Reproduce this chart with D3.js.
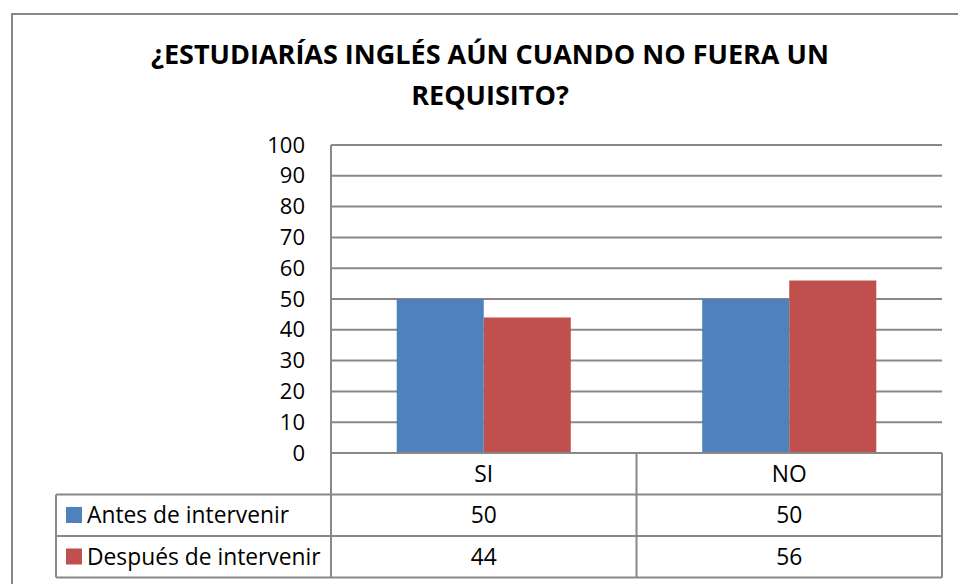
<!DOCTYPE html>
<html lang="es">
  <head>
    <meta charset="utf-8">
    <title>¿Estudiarías inglés aún cuando no fuera un requisito?</title>
    <style>
      body { margin: 0; background: #fff; }
      svg { display: block; font-family: "Open Sans", sans-serif; }
    </style>
  </head>
  <body>
    <svg width="958" height="584"></svg>
    <script src="https://d3js.org/d3.v7.min.js"></script>
    <script>
      var categories = ["SI", "NO"];
      var seriesNames = ["Antes de intervenir", "Después de intervenir"];
      var antes = [50, 50];
      var despues = [44, 56];
      var yTicks = [0, 10, 20, 30, 40, 50, 60, 70, 80, 90, 100];
      var titleLines = ["¿ESTUDIARÍAS INGLÉS AÚN CUANDO NO FUERA UN", "REQUISITO?"];

      var series = [antes, despues];
      var colors = ["#4f81bd", "#c0504d"];
      var gridColor = "#888";

      var svg = d3.select("svg");
      var plotLeft = 331, plotRight = 942, plotTop = 145, plotBottom = 453;
      var rowH = 41.5, legendLeft = 56;
      var labelSize = 22.8;

      // outer frame
      svg.append("rect")
        .attr("x", 12).attr("y", 14)
        .attr("width", 960).attr("height", 600)
        .attr("fill", "none")
        .attr("stroke", gridColor)
        .attr("stroke-width", 2);

      svg.append("g")
        .selectAll("text")
        .data(titleLines)
        .enter()
        .append("text")
        .attr("x", 490)
        .attr("y", (d, i) => 64 + i * 41)
        .attr("text-anchor", "middle")
        .attr("font-size", 27)
        .attr("font-weight", "bold")
        .text(d => d);

      var y = d3.scaleLinear().domain([0, 100]).range([plotBottom, plotTop]);
      var x = d3.scaleBand().domain(categories).range([plotLeft, plotRight]);
      var xs = d3.scaleBand().domain(d3.range(series.length))
        .range([0, x.bandwidth()]).paddingOuter(0.755);

      // gridlines
      svg.append("g")
        .selectAll("line")
        .data(yTicks.filter(d => d > 0))
        .enter()
        .append("line")
        .attr("x1", plotLeft).attr("x2", plotRight)
        .attr("y1", d => y(d)).attr("y2", d => y(d))
        .attr("stroke", gridColor)
        .attr("stroke-width", 2);

      var yAxis = svg.append("g")
        .attr("transform", `translate(${plotLeft},0)`)
        .call(d3.axisLeft(y).tickValues(yTicks).tickSize(0).tickPadding(26));
      yAxis.select(".domain").remove();
      yAxis.selectAll("text")
        .attr("font-family", "Open Sans, sans-serif")
        .attr("font-size", 22)
        .attr("fill", "#000");

      // bars
      svg.append("g")
        .selectAll("g")
        .data(series)
        .enter()
        .append("g")
        .attr("fill", (d, i) => colors[i])
        .each(function(vals, si) {
          d3.select(this).selectAll("rect")
            .data(vals)
            .enter()
            .append("rect")
            .attr("x", (d, ci) => x(categories[ci]) + xs(si))
            .attr("width", xs.bandwidth())
            .attr("y", d => y(d))
            .attr("height", d => y(0) - y(d));
        });

      // data table
      var table = svg.append("g")
        .attr("fill", "none")
        .attr("stroke", gridColor)
        .attr("stroke-width", 2);
      var tableBottom = plotBottom + rowH * 3;
      table.append("line").attr("x1", plotLeft).attr("x2", plotLeft).attr("y1", plotTop).attr("y2", tableBottom);
      table.append("line").attr("x1", plotLeft).attr("x2", plotRight).attr("y1", plotBottom).attr("y2", plotBottom);
      categories.forEach(c => {
        table.append("line")
          .attr("x1", x(c) + x.bandwidth()).attr("x2", x(c) + x.bandwidth())
          .attr("y1", plotBottom).attr("y2", tableBottom);
      });
      [1, 2, 3].forEach(r => {
        table.append("line")
          .attr("x1", legendLeft).attr("x2", plotRight)
          .attr("y1", plotBottom + rowH * r).attr("y2", plotBottom + rowH * r);
      });
      table.append("line").attr("x1", legendLeft).attr("x2", legendLeft)
        .attr("y1", plotBottom + rowH).attr("y2", tableBottom);

      svg.append("g")
        .selectAll("text")
        .data(categories)
        .enter()
        .append("text")
        .attr("x", d => x(d) + x.bandwidth() / 2)
        .attr("y", plotBottom + rowH / 2)
        .attr("dy", "0.35em")
        .attr("text-anchor", "middle")
        .attr("font-size", labelSize)
        .text(d => d);

      series.forEach((vals, si) => {
        var rowY = plotBottom + rowH * (si + 1);
        svg.append("rect")
          .attr("x", 66).attr("y", rowY + 12.5)
          .attr("width", 16).attr("height", 16)
          .attr("fill", colors[si]);
        svg.append("text")
          .attr("x", 87).attr("y", rowY + rowH / 2)
          .attr("dy", "0.35em")
          .attr("font-size", labelSize)
          .text(seriesNames[si]);
        svg.append("g")
          .selectAll("text")
          .data(vals)
          .enter()
          .append("text")
          .attr("x", (d, ci) => x(categories[ci]) + x.bandwidth() / 2)
          .attr("y", rowY + rowH / 2)
          .attr("dy", "0.35em")
          .attr("text-anchor", "middle")
          .attr("font-size", labelSize)
          .text(d => d);
      });
    </script>
  </body>
</html>
